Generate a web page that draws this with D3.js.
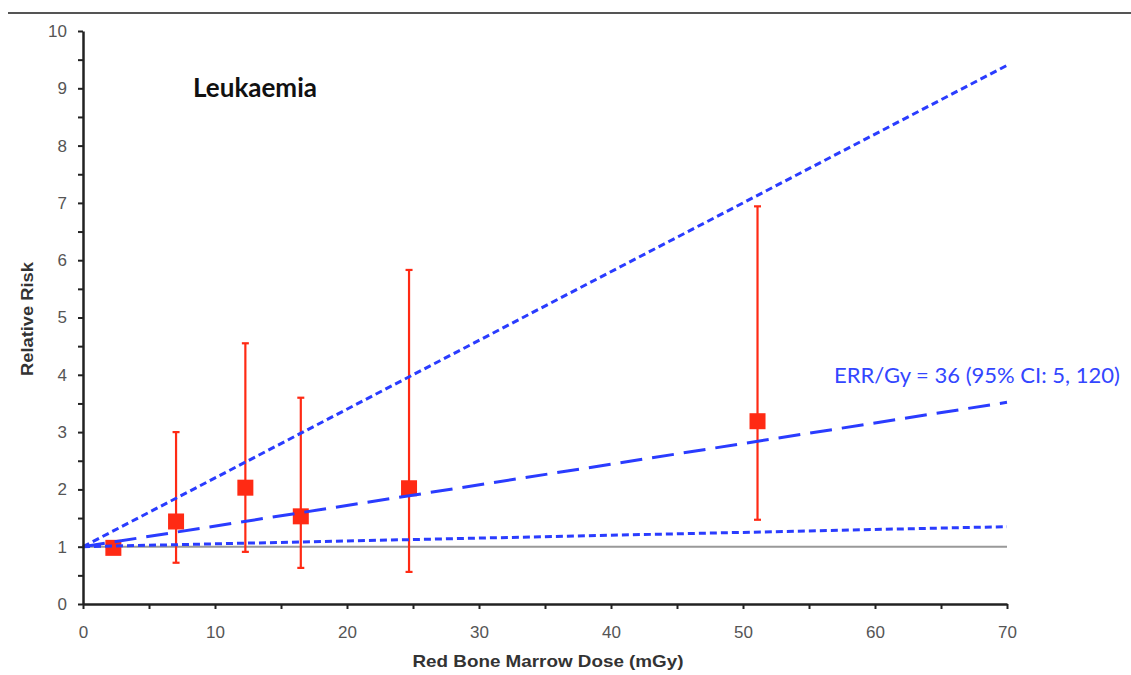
<!DOCTYPE html>
<html>
<head>
<meta charset="utf-8">
<script src="https://cdn.jsdelivr.net/npm/d3@7"></script>
<style>
  body { margin: 0; background: #fff; }
  svg text { font-family: "Liberation Sans", Arial, sans-serif; }
</style>
</head>
<body>
<div id="chart"></div>
<script>
// observed points: red bone marrow dose (mGy) vs relative risk, with 95% CI
const doses  = [2.3, 7.05, 12.3, 16.5, 24.7, 51.1];
const rr     = [0.98, 1.44, 2.03, 1.53, 2.02, 3.19];
const ciLow  = [null, 0.72, 0.91, 0.63, 0.56, 1.47];
const ciHigh = [null, 3.0, 4.55, 3.6, 5.83, 6.94];

// fitted ERR lines, relative risk at dose 0 and at dose 70
const fitDose    = [0, 70];
const fitCentral = [1, 3.52];
const fitLower   = [1, 1.35];
const fitUpper   = [1, 9.4];

const xTicks = [0, 5, 10, 15, 20, 25, 30, 35, 40, 45, 50, 55, 60, 65, 70];
const yTicks = [0, 0.5, 1, 1.5, 2, 2.5, 3, 3.5, 4, 4.5, 5, 5.5, 6, 6.5, 7, 7.5, 8, 8.5, 9, 9.5, 10];

const W = 1131, H = 675;
const blue = '#2a3cff', red = '#ff2a14';

const x = d3.scaleLinear().domain([0, 70]).range([83, 1007]);
const y = d3.scaleLinear().domain([0, 10]).range([604, 31]);

const svg = d3.select('#chart').append('svg')
    .attr('width', W)
    .attr('height', H);

svg.append('rect').attr('width', W).attr('height', H).attr('fill', '#fff');

// rule across the top
svg.append('line')
    .attr('x1', 8).attr('x2', W).attr('y1', 13).attr('y2', 13)
    .attr('stroke', '#555').attr('stroke-width', 2);

// reference line at RR = 1
svg.append('line')
    .attr('x1', x(0)).attr('x2', x(70)).attr('y1', y(1)).attr('y2', y(1))
    .attr('stroke', '#999').attr('stroke-width', 2);

const pts = doses.map((d, i) => ({ dose: d, rr: rr[i], lo: ciLow[i], hi: ciHigh[i] }));
const bars = pts.filter(d => d.lo != null);

// error bars
svg.append('g')
  .selectAll('line')
  .data(bars)
  .join('line')
    .attr('x1', d => x(d.dose)).attr('x2', d => x(d.dose))
    .attr('y1', d => y(d.lo)).attr('y2', d => y(d.hi))
    .attr('stroke', red).attr('stroke-width', 2.2);

svg.append('g')
  .selectAll('line')
  .data(bars.flatMap(d => [d.lo, d.hi].map(v => ({ dose: d.dose, v }))))
  .join('line')
    .attr('x1', d => x(d.dose) - 3.5).attr('x2', d => x(d.dose) + 3.5)
    .attr('y1', d => y(d.v)).attr('y2', d => y(d.v))
    .attr('stroke', red).attr('stroke-width', 2.2);

// markers
svg.append('g')
  .selectAll('rect')
  .data(pts)
  .join('rect')
    .attr('x', d => x(d.dose) - 8).attr('y', d => y(d.rr) - 8)
    .attr('width', 16).attr('height', 16)
    .attr('fill', red);

// fitted lines
const line = d3.line().x(d => x(d[0])).y(d => y(d[1]));
const fits = [
  { vals: fitUpper,   dash: '7 4' },
  { vals: fitLower,   dash: '7 4' },
  { vals: fitCentral, dash: '22 10' }
];
svg.append('g')
  .selectAll('path')
  .data(fits)
  .join('path')
    .attr('d', f => line(fitDose.map((d, i) => [d, f.vals[i]])))
    .attr('fill', 'none')
    .attr('stroke', blue)
    .attr('stroke-width', 3)
    .attr('stroke-dasharray', f => f.dash);

// axes
const xAxis = svg.append('g')
    .attr('transform', `translate(0,${y(0)})`)
    .call(d3.axisBottom(x).tickValues(xTicks).tickSize(5).tickSizeOuter(0).tickPadding(17)
      .tickFormat(d => d % 10 === 0 ? d : ''));

const yAxis = svg.append('g')
    .attr('transform', `translate(${x(0)},0)`)
    .call(d3.axisLeft(y).tickValues(yTicks).tickSize(5).tickSizeOuter(0).tickPadding(11)
      .tickFormat(d => Number.isInteger(d) ? d : ''));

[xAxis, yAxis].forEach(g => {
  g.select('.domain').attr('stroke', '#222').attr('stroke-width', 2.5);
  g.selectAll('.tick line').attr('stroke', '#222').attr('stroke-width', 2);
  g.selectAll('.tick text')
      .attr('fill', '#555')
      .style('font-size', '17px')
      .style('font-family', '"Liberation Sans", Arial, sans-serif');
});

// axis titles
svg.append('text')
    .attr('x', 548).attr('y', 667)
    .attr('text-anchor', 'middle')
    .attr('font-weight', 'bold')
    .attr('font-size', 17)
    .attr('textLength', 271)
    .attr('lengthAdjust', 'spacingAndGlyphs')
    .attr('fill', '#333')
    .text('Red Bone Marrow Dose (mGy)');

svg.append('text')
    .attr('transform', 'translate(33,319) rotate(-90)')
    .attr('text-anchor', 'middle')
    .attr('font-weight', 'bold')
    .attr('font-size', 17)
    .attr('textLength', 114)
    .attr('lengthAdjust', 'spacingAndGlyphs')
    .attr('fill', '#333')
    .text('Relative Risk');

// chart title and annotation
svg.append('text')
    .attr('x', 193).attr('y', 97)
    .attr('font-weight', 'bold')
    .attr('font-size', 26)
    .style('font-family', 'Lato, "Open Sans", sans-serif')
    .attr('fill', '#111')
    .text('Leukaemia');

svg.append('text')
    .attr('x', 834).attr('y', 383)
    .attr('font-size', 22)
    .style('font-family', 'Lato, "Open Sans", sans-serif')
    .attr('fill', '#3346ff')
    .text('ERR/Gy = 36 (95% CI: 5, 120)');
</script>
</body>
</html>
